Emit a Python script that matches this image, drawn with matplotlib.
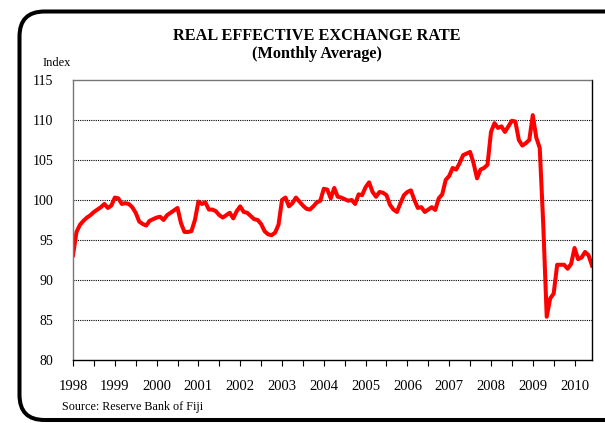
import matplotlib
matplotlib.use("Agg")
import matplotlib.pyplot as plt
from matplotlib.patches import FancyBboxPatch

# monthly index values, Jan 1998 - Jun 2010
reer = [
    93.1, 96.0, 96.9, 97.4, 97.8, 98.1, 98.5, 98.8, 99.1, 99.5, 99.0, 99.3,      # 1998
    100.3, 100.2, 99.5, 99.6, 99.5, 99.1, 98.4, 97.3, 97.0, 96.8, 97.4, 97.6,    # 1999
    97.8, 97.9, 97.5, 98.1, 98.4, 98.7, 99.0, 97.1, 96.0, 96.0, 96.1, 97.5,      # 2000
    99.8, 99.5, 99.7, 98.8, 98.8, 98.6, 98.1, 97.8, 98.1, 98.4, 97.7, 98.6,      # 2001
    99.2, 98.5, 98.4, 98.0, 97.6, 97.5, 97.0, 96.1, 95.7, 95.6, 95.9, 96.9,      # 2002
    100.0, 100.3, 99.2, 99.6, 100.3, 99.8, 99.3, 98.9, 98.8, 99.2, 99.7, 99.9,   # 2003
    101.4, 101.3, 100.2, 101.5, 100.4, 100.3, 100.1, 99.9, 100.0, 99.5, 100.7, 100.6,  # 2004
    101.6, 102.2, 101.0, 100.4, 101.0, 100.9, 100.6, 99.4, 98.8, 98.5, 99.6, 100.6,    # 2005
    101.0, 101.2, 100.0, 99.0, 99.1, 98.5, 98.8, 99.1, 98.75, 100.2, 100.7, 102.5,     # 2006
    103.0, 104.0, 103.8, 104.6, 105.6, 105.8, 106.0, 104.6, 102.7, 103.8, 104.0, 104.4, # 2007
    108.5, 109.6, 109.0, 109.2, 108.5, 109.2, 109.9, 109.8, 107.5, 106.8, 107.1, 107.5, # 2008
    110.6, 107.8, 106.5, 97.0, 85.4, 87.7, 88.3, 91.9, 91.9, 91.9, 91.4, 92.0,   # 2009
    94.0, 92.6, 92.8, 93.5, 93.1, 91.8,                                          # 2010
]
years = [str(y) for y in range(1998, 2011)]
yticks = [80, 85, 90, 95, 100, 105, 110, 115]

serif = "Liberation Serif"

fig = plt.figure(figsize=(6.05, 4.23), dpi=100)

# rounded frame around the chart, in inches so the corners stay round;
# it runs off the right edge like the original
frame = FancyBboxPatch((0.195, 0.03), 6.3, 4.085,
                       boxstyle="round,pad=0,rounding_size=0.25",
                       transform=fig.dpi_scale_trans, fill=False,
                       edgecolor="black", linewidth=2.9, zorder=0)
fig.patches.append(frame)

ax = fig.add_axes([0.1207, 0.149, 0.8578, 0.662])
months = list(range(len(reer)))
ax.plot(months, reer, color="#ff0000", linewidth=2.9, solid_joinstyle="round")

ax.set_xlim(0, len(reer) - 1)
ax.set_ylim(80, 115)
ax.set_yticks(yticks)
ax.set_yticklabels([str(v) for v in yticks], fontfamily=serif, fontsize=10)
ax.tick_params(axis="y", length=0, pad=14)

ax.set_xticks(range(0, len(reer), 12))
ax.set_xticklabels(years, fontfamily=serif, fontsize=10.5)
ax.set_xticks(range(6, len(reer), 12), minor=True)
ax.tick_params(axis="x", which="both", direction="out", length=4,
               width=0.8, pad=10.5)

for v in yticks[1:-1]:
    ax.axhline(v, color="black", linewidth=0.8, linestyle=(0, (1, 1)), zorder=1)

ax.spines["top"].set_color("#777777")
ax.spines["top"].set_linestyle((0, (1, 1)))
ax.spines["left"].set_color("#777777")
ax.spines["bottom"].set_color("black")
ax.spines["right"].set_color("black")
for s in ax.spines.values():
    s.set_linewidth(1.0)

fig.text(0.524, 0.9156, "REAL EFFECTIVE EXCHANGE RATE", ha="center", va="center",
         fontfamily=serif, fontweight="bold", fontsize=11.7)
fig.text(0.524, 0.8716, "(Monthly Average)", ha="center", va="center",
         fontfamily=serif, fontweight="bold", fontsize=11.7)
fig.text(0.071, 0.851, "Index", ha="left", va="center",
         fontfamily=serif, fontsize=9)
fig.text(0.102, 0.038, "Source: Reserve Bank of Fiji", ha="left", va="center",
         fontfamily=serif, fontsize=8.7)

fig.savefig("out.png", dpi=100)
